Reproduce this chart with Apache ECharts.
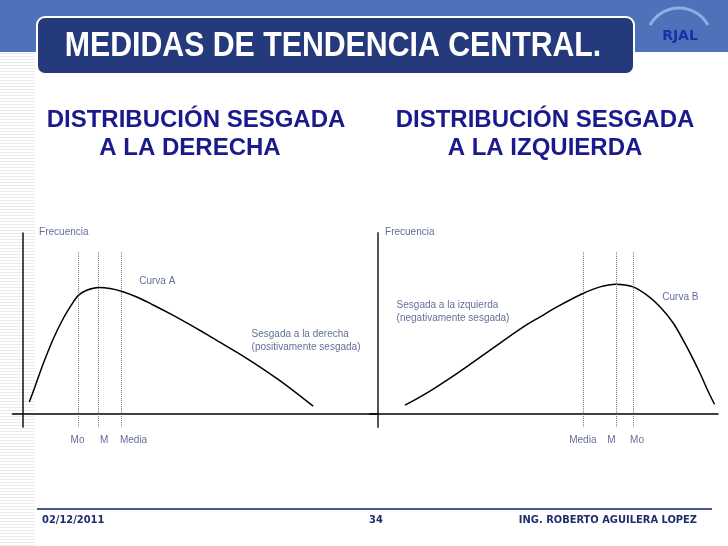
<!DOCTYPE html>
<html><head><meta charset="utf-8">
<script src="https://cdn.jsdelivr.net/npm/echarts@6/dist/echarts.min.js"></script>
<style>html,body{margin:0;padding:0;background:#fff}#c{width:728px;height:546px}</style>
</head><body><div id="c"></div>
<script>
// ---- data ----
const curveAX = [1.8,3.4,5.8,8.7,11.5,14.4,15.9,18.2,21.6,24.9,28.1,32.5,37.2,42,46.8,50.6,54.4,63.9,73.4,82.9];
const curveAY = [9.6,21.4,39.7,59.3,75,88,93.3,97.2,99.3,98.5,96.4,91.9,85.6,78.8,71.6,65.6,59.4,43.8,26.3,6.3];
const curveBX = [7.7,12.9,22.5,32,41.5,46.3,51.1,58.5,63.4,68,72.9,76.8,80.6,84.4,88.2,92,94.1,96.1];
const curveBY = [7.1,14.9,31.9,50.2,68.4,76.3,84.1,94.6,99.8,101.9,99.8,93.3,84.1,71.1,52.7,31.9,19,7.8];
const measuresA = ['Mo','M','Media'];
const measuresAX = [15.9,21.6,28.1];
const measuresB = ['Media','M','Mo'];
const measuresBX = [58.5,68,72.9];
const measureTop = 127;

const titleMain = 'MEDIDAS DE TENDENCIA CENTRAL.';
const titleA = ['DISTRIBUCIÓN SESGADA','A LA DERECHA'];
const titleB = ['DISTRIBUCIÓN SESGADA','A LA IZQUIERDA'];
const footer = ['02/12/2011','34','ING. ROBERTO AGUILERA LOPEZ'];

// annotation texts (placement kept separately below)
const notesA = ['Frecuencia','Curva A','Sesgada a la derecha','(positivamente sesgada)'];
const notesB = ['Frecuencia','Sesgada a la izquierda','(negativamente sesgada)','Curva B'];
// ---- placement of annotations in axis units ----
const notesAPos = [[4.6,142.6],[33.2,104.4],[65.3,62.7],[65.3,52.3]];
const notesBPos = [[2,142.6],[5.3,85.4],[5.3,75],[81.2,91.3]];
const measLabelAPos = [13.6,22,27.7];
const measLabelBPos = [54.6,65.5,72];
const measLabelY = -20.4;

const chart = echarts.init(document.getElementById('c'));
const noteColor = '#3b4a80';
const noteFont = {fontFamily:'"Liberation Sans", Arial, sans-serif', fontSize:10, color:noteColor};

function zip(xs, ys){ return xs.map((x,i)=>[x, ys[i]]); }
function vlines(xs){ return xs.map(x=>[{coord:[x,measureTop]},{coord:[x,-10]}]); }
function labelSeries(idx, texts, pos){
  return {
    type:'scatter', xAxisIndex:idx, yAxisIndex:idx, symbolSize:0, clip:false, silent:true,
    data: texts.map((t,i)=>({name:t, value:pos[i]})),
    label:{show:true, position:'inside', align:'left', verticalAlign:'middle', formatter:'{b}', ...noteFont}
  };
}

const axisBase = {
  type:'value', axisTick:{show:false}, axisLabel:{show:false}, splitLine:{show:false},
  axisLine:{show:true, onZero:true}
};

// decorative slide elements
const graphics = [];
graphics.push({type:'rect', shape:{x:0,y:0,width:728,height:52}, style:{fill:'#4d72b9'}, z:-10});
for (let y=53; y<546; y+=3){
  graphics.push({type:'line', shape:{x1:0,y1:y+0.5,x2:35,y2:y+0.5}, style:{stroke:'#ebebeb',lineWidth:1}, z:-10});
}
graphics.push({type:'rect', shape:{x:37,y:17,width:597,height:57,r:8}, style:{fill:'#243a7c',stroke:'#ffffff',lineWidth:2}, z:-5});
graphics.push({type:'text', x:333, y:46, scaleX:0.865, style:{text:titleMain, fill:'#ffffff', font:'bold 35px "Liberation Sans", Arial', textAlign:'center', textVerticalAlign:'middle'}});
graphics.push({type:'arc', shape:{cx:679,cy:41.2,r:33.2,startAngle:-2.632,endAngle:-0.509,clockwise:true}, style:{stroke:'#8eaee6',lineWidth:3,fill:null}});
graphics.push({type:'text', x:680, y:36, style:{text:'RJAL', fill:'#1c2fa8', font:'bold 14px "DejaVu Sans", Verdana', textAlign:'center', textVerticalAlign:'middle'}});
const titleFont = 'bold 24px "Liberation Sans", Arial';
graphics.push({type:'text', x:196, y:120, style:{text:titleA[0], fill:'#1a1a8c', font:titleFont, textAlign:'center', textVerticalAlign:'middle'}});
graphics.push({type:'text', x:190, y:148, style:{text:titleA[1], fill:'#1a1a8c', font:titleFont, textAlign:'center', textVerticalAlign:'middle'}});
graphics.push({type:'text', x:545, y:120, style:{text:titleB[0], fill:'#1a1a8c', font:titleFont, textAlign:'center', textVerticalAlign:'middle'}});
graphics.push({type:'text', x:545, y:148, style:{text:titleB[1], fill:'#1a1a8c', font:titleFont, textAlign:'center', textVerticalAlign:'middle'}});
graphics.push({type:'line', shape:{x1:37,y1:509,x2:712,y2:509}, style:{stroke:'#4b5a8c',lineWidth:2}});
const footFont = 'bold 11px "DejaVu Sans Condensed", "DejaVu Sans", Verdana';
graphics.push({type:'text', x:42, y:520, style:{text:footer[0], fill:'#1f2d6b', font:footFont, textAlign:'left', textVerticalAlign:'middle'}});
graphics.push({type:'text', x:376, y:520, style:{text:footer[1], fill:'#1f2d6b', font:footFont, textAlign:'center', textVerticalAlign:'middle'}});
graphics.push({type:'text', x:697, y:520, style:{text:footer[2], fill:'#1f2d6b', font:footFont, textAlign:'right', textVerticalAlign:'middle'}});

const option = {
  animation:false,
  backgroundColor:'#ffffff',
  graphic: graphics,
  grid:[
    {left:12.5, width:364, top:233, height:194},
    {left:370, width:348, top:233, height:194}
  ],
  xAxis:[
    {...axisBase, gridIndex:0, min:-3, max:101, axisLine:{show:true,onZero:true,lineStyle:{color:'#000',width:1.5}}},
    {...axisBase, gridIndex:1, min:-2.3, max:97.1, axisLine:{show:true,onZero:true,lineStyle:{color:'#000',width:1.5}}}
  ],
  yAxis:[
    {...axisBase, gridIndex:0, min:-10, max:142, axisLine:{show:true,onZero:true,lineStyle:{color:'#111',width:1.5}}},
    {...axisBase, gridIndex:1, min:-10, max:142, axisLine:{show:true,onZero:true,lineStyle:{color:'#555',width:2}}}
  ],
  series:[
    {type:'line', xAxisIndex:0, yAxisIndex:0, data:zip(curveAX,curveAY), smooth:0.3, showSymbol:false,
     lineStyle:{color:'#000',width:1.5},
     markLine:{silent:true, symbol:['none','none'], label:{show:false}, lineStyle:{color:'#777',type:'dotted',width:1}, data:vlines(measuresAX)}},
    {type:'line', xAxisIndex:1, yAxisIndex:1, data:zip(curveBX,curveBY), smooth:0.3, showSymbol:false,
     lineStyle:{color:'#000',width:1.5},
     markLine:{silent:true, symbol:['none','none'], label:{show:false}, lineStyle:{color:'#777',type:'dotted',width:1}, data:vlines(measuresBX)}},
    labelSeries(0, notesA, notesAPos),
    labelSeries(1, notesB, notesBPos),
    labelSeries(0, measuresA, measLabelAPos.map(x=>[x,measLabelY])),
    labelSeries(1, measuresB, measLabelBPos.map(x=>[x,measLabelY]))
  ]
};
chart.setOption(option);
</script>
</body></html>
